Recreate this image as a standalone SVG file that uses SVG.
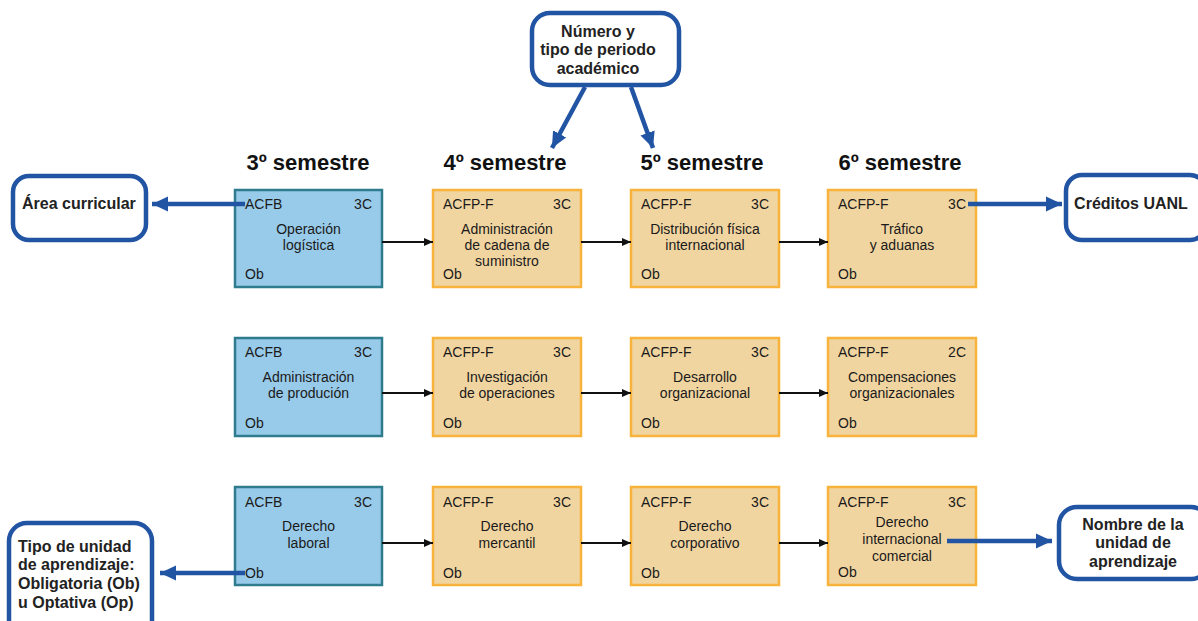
<svg xmlns="http://www.w3.org/2000/svg" width="1198" height="621" viewBox="0 0 1198 621">
  <defs>
    <style>
      .bx-b { fill: #98CAE9; stroke: #2E7C8E; stroke-width: 2.5; }
      .bx-o { fill: #F1D5A1; stroke: #F8B33D; stroke-width: 2.5; }
      .t { font-family: "Liberation Sans", Arial, sans-serif; font-size: 14px; fill: #1a1a1a; }
      .c { text-anchor: middle; }
      .r { text-anchor: end; }
      .hd { font-family: "Liberation Sans", Arial, sans-serif; font-size: 22px; font-weight: bold; fill: #111; text-anchor: middle; }
      .call { fill: #fff; stroke: #2254A4; stroke-width: 4.5; }
      .ct { font-family: "Liberation Sans", Arial, sans-serif; font-size: 16px; font-weight: bold; fill: #222; }
      .flow { stroke: #111; stroke-width: 2; fill: none; }
      .pt { stroke: #2254A4; stroke-width: 4.5; fill: none; }
    </style>
    <marker id="ah" markerWidth="10" markerHeight="10" refX="9" refY="5" orient="auto" markerUnits="userSpaceOnUse">
      <path d="M0,1 L9,5 L0,9 Z" fill="#111"/>
    </marker>
    <marker id="bh" markerWidth="18" markerHeight="18" refX="16" refY="9" orient="auto" markerUnits="userSpaceOnUse">
      <path d="M0,1.5 L16,9 L0,16.5 Z" fill="#2254A4"/>
    </marker>
  </defs>

  <!-- semester headers -->
  <g id="headers">
    <text class="hd" x="308" y="170">3º semestre</text>
    <text class="hd" x="505" y="170">4º semestre</text>
    <text class="hd" x="702" y="170">5º semestre</text>
    <text class="hd" x="900" y="170">6º semestre</text>
  </g>

  <!-- row 1 -->
  <g id="n-operacion-logistica">
    <rect class="bx-b" x="235" y="190" width="147" height="97"/>
    <text class="t" x="245" y="209">ACFB</text>
    <text class="t r" x="372" y="209">3C</text>
    <text class="t c" x="308.5" y="234">Operación</text>
    <text class="t c" x="308.5" y="250">logística</text>
    <text class="t" x="245" y="279">Ob</text>
  </g>
  <g id="n-admin-cadena">
    <rect class="bx-o" x="433" y="190" width="148" height="97"/>
    <text class="t" x="443" y="209">ACFP-F</text>
    <text class="t r" x="571" y="209">3C</text>
    <text class="t c" x="507" y="234">Administración</text>
    <text class="t c" x="507" y="250">de cadena de</text>
    <text class="t c" x="507" y="266">suministro</text>
    <text class="t" x="443" y="279">Ob</text>
  </g>
  <g id="n-distribucion">
    <rect class="bx-o" x="631" y="190" width="148" height="97"/>
    <text class="t" x="641" y="209">ACFP-F</text>
    <text class="t r" x="769" y="209">3C</text>
    <text class="t c" x="705" y="234">Distribución física</text>
    <text class="t c" x="705" y="250">internacional</text>
    <text class="t" x="641" y="279">Ob</text>
  </g>
  <g id="n-trafico">
    <rect class="bx-o" x="828" y="190" width="148" height="97"/>
    <text class="t" x="838" y="209">ACFP-F</text>
    <text class="t r" x="966" y="209">3C</text>
    <text class="t c" x="902" y="234">Tráfico</text>
    <text class="t c" x="902" y="250">y aduanas</text>
    <text class="t" x="838" y="279">Ob</text>
  </g>

  <!-- row 2 -->
  <g id="n-admin-produccion">
    <rect class="bx-b" x="235" y="338" width="147" height="98"/>
    <text class="t" x="245" y="357">ACFB</text>
    <text class="t r" x="372" y="357">3C</text>
    <text class="t c" x="308.5" y="382">Administración</text>
    <text class="t c" x="308.5" y="398">de produción</text>
    <text class="t" x="245" y="428">Ob</text>
  </g>
  <g id="n-investigacion">
    <rect class="bx-o" x="433" y="338" width="148" height="98"/>
    <text class="t" x="443" y="357">ACFP-F</text>
    <text class="t r" x="571" y="357">3C</text>
    <text class="t c" x="507" y="382">Investigación</text>
    <text class="t c" x="507" y="398">de operaciones</text>
    <text class="t" x="443" y="428">Ob</text>
  </g>
  <g id="n-desarrollo">
    <rect class="bx-o" x="631" y="338" width="148" height="98"/>
    <text class="t" x="641" y="357">ACFP-F</text>
    <text class="t r" x="769" y="357">3C</text>
    <text class="t c" x="705" y="382">Desarrollo</text>
    <text class="t c" x="705" y="398">organizacional</text>
    <text class="t" x="641" y="428">Ob</text>
  </g>
  <g id="n-compensaciones">
    <rect class="bx-o" x="828" y="338" width="148" height="98"/>
    <text class="t" x="838" y="357">ACFP-F</text>
    <text class="t r" x="966" y="357">2C</text>
    <text class="t c" x="902" y="382">Compensaciones</text>
    <text class="t c" x="902" y="398">organizacionales</text>
    <text class="t" x="838" y="428">Ob</text>
  </g>

  <!-- row 3 -->
  <g id="n-derecho-laboral">
    <rect class="bx-b" x="235" y="487" width="147" height="98"/>
    <text class="t" x="245" y="507">ACFB</text>
    <text class="t r" x="372" y="507">3C</text>
    <text class="t c" x="308.5" y="531">Derecho</text>
    <text class="t c" x="308.5" y="548">laboral</text>
    <text class="t" x="245" y="578">Ob</text>
  </g>
  <g id="n-derecho-mercantil">
    <rect class="bx-o" x="433" y="487" width="148" height="98"/>
    <text class="t" x="443" y="507">ACFP-F</text>
    <text class="t r" x="571" y="507">3C</text>
    <text class="t c" x="507" y="531">Derecho</text>
    <text class="t c" x="507" y="548">mercantil</text>
    <text class="t" x="443" y="578">Ob</text>
  </g>
  <g id="n-derecho-corporativo">
    <rect class="bx-o" x="631" y="487" width="148" height="98"/>
    <text class="t" x="641" y="507">ACFP-F</text>
    <text class="t r" x="769" y="507">3C</text>
    <text class="t c" x="705" y="531">Derecho</text>
    <text class="t c" x="705" y="548">corporativo</text>
    <text class="t" x="641" y="578">Ob</text>
  </g>
  <g id="n-derecho-internacional">
    <rect class="bx-o" x="828" y="487" width="148" height="98"/>
    <text class="t" x="838" y="507">ACFP-F</text>
    <text class="t r" x="966" y="507">3C</text>
    <text class="t c" x="902" y="527">Derecho</text>
    <text class="t c" x="902" y="544">internacional</text>
    <text class="t c" x="902" y="561">comercial</text>
    <text class="t" x="838" y="577">Ob</text>
  </g>

  <!-- explanatory callouts -->
  <g id="c-area">
    <rect class="call" x="13" y="176" width="133" height="64" rx="16"/>
    <text class="ct" x="22" y="209">Área curricular</text>
  </g>
  <g id="c-periodo">
    <rect class="call" x="532" y="13" width="147" height="72" rx="18"/>
    <text class="ct c" x="598" y="37">Número y</text>
    <text class="ct c" x="598" y="55">tipo de periodo</text>
    <text class="ct c" x="598" y="74">académico</text>
  </g>
  <g id="c-creditos">
    <rect class="call" x="1066" y="175" width="140" height="65" rx="16"/>
    <text class="ct c" x="1131" y="209">Créditos UANL</text>
  </g>
  <g id="c-tipo">
    <rect class="call" x="9" y="523" width="143" height="120" rx="18"/>
    <text class="ct" x="18" y="552">Tipo de unidad</text>
    <text class="ct" x="18" y="570">de aprendizaje:</text>
    <text class="ct" x="18" y="589">Obligatoria (Ob)</text>
    <text class="ct" x="18" y="608">u Optativa (Op)</text>
  </g>
  <g id="c-nombre">
    <rect class="call" x="1059" y="507" width="150" height="72" rx="18"/>
    <text class="ct c" x="1133" y="530">Nombre de la</text>
    <text class="ct c" x="1133" y="548">unidad de</text>
    <text class="ct c" x="1133" y="567">aprendizaje</text>
  </g>

  <!-- connectors -->
  <g id="connectors">
    <line class="flow" x1="382" y1="242" x2="433" y2="242" marker-end="url(#ah)"/>
    <line class="flow" x1="581" y1="242" x2="631" y2="242" marker-end="url(#ah)"/>
    <line class="flow" x1="779" y1="242" x2="828" y2="242" marker-end="url(#ah)"/>
    <line class="flow" x1="382" y1="393" x2="433" y2="393" marker-end="url(#ah)"/>
    <line class="flow" x1="581" y1="393" x2="631" y2="393" marker-end="url(#ah)"/>
    <line class="flow" x1="779" y1="393" x2="828" y2="393" marker-end="url(#ah)"/>
    <line class="flow" x1="382" y1="543" x2="433" y2="543" marker-end="url(#ah)"/>
    <line class="flow" x1="581" y1="543" x2="631" y2="543" marker-end="url(#ah)"/>
    <line class="flow" x1="779" y1="543" x2="828" y2="543" marker-end="url(#ah)"/>

    <line class="pt" x1="245" y1="204" x2="152" y2="204" marker-end="url(#bh)"/>
    <line class="pt" x1="968" y1="204" x2="1062" y2="204" marker-end="url(#bh)"/>
    <line class="pt" x1="245" y1="573" x2="160" y2="573" marker-end="url(#bh)"/>
    <line class="pt" x1="947" y1="541" x2="1052" y2="541" marker-end="url(#bh)"/>
    <line class="pt" x1="585" y1="87" x2="552" y2="148" marker-end="url(#bh)"/>
    <line class="pt" x1="631" y1="87" x2="653" y2="148" marker-end="url(#bh)"/>
  </g>
</svg>
